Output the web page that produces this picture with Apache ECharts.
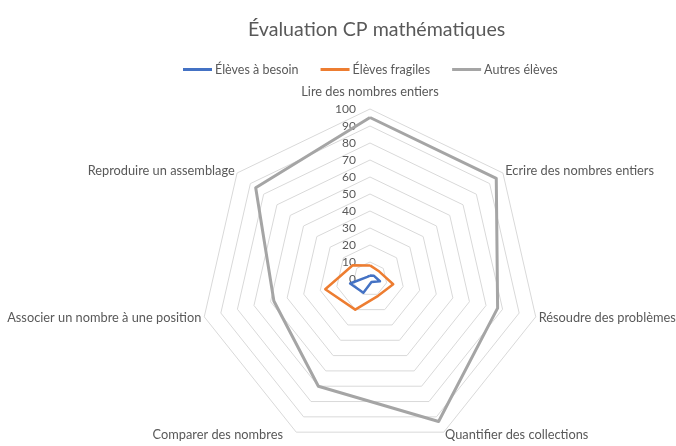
<!DOCTYPE html>
<html><head><meta charset="utf-8">
<script src="https://cdn.jsdelivr.net/npm/echarts@6/dist/echarts.min.js"></script>
<style>html,body{margin:0;padding:0;background:#fff}#c{width:676px;height:446px}</style>
</head><body><div id="c"></div>
<script>
// Categories listed clockwise from the top, as in the reference
const categories = ['Lire des nombres entiers','Ecrire des nombres entiers','Résoudre des problèmes','Quantifier des collections','Comparer des nombres','Associer un nombre à une position','Reproduire un assemblage'];
const seriesNames = ['Élèves à besoin','Élèves fragiles','Autres élèves'];
const besoin   = [2, 3, 6, 2, 9, 12, 2];
const fragiles = [8, 7, 14, 11, 20, 27, 13];
const autres   = [95, 95, 77, 93, 70, 58, 86];
const axisMax = 100;
const tickStep = 10;

// ECharts lays indicators out counter-clockwise: reorder to get clockwise order
const order = [0].concat(categories.map((_, i) => i).slice(1).reverse());
const reorder = arr => order.map(i => arr[i]);

const font = 'Lato';
const txt = '#595959';
const chart = echarts.init(document.getElementById('c'), null, {renderer: 'canvas'});
chart.setOption({
  animation: false,
  title: {text: 'Évaluation CP mathématiques', left: 243, top: 15,
    textStyle: {fontFamily: font, fontSize: 19.6, fontWeight: 'normal', color: txt}},
  legend: {top: 58, left: 178, itemWidth: 29, itemHeight: 3, itemGap: 22, icon: 'rect',
    textStyle: {fontFamily: font, fontSize: 12.5, color: txt, padding: [0, 0, 0, -2]}, data: seriesNames},
  radar: {
    center: [370, 279], radius: 170, startAngle: 90, shape: 'polygon',
    splitNumber: axisMax / tickStep,
    indicator: order.map((i, k) => ({name: categories[i], min: 0, max: axisMax,
      axisLabel: k === 0 ? {show: true, fontFamily: font, fontSize: 12, color: txt, margin: 14} : {show: false}})),
    axisName: {color: txt, fontFamily: font, fontSize: 12.8,
      formatter: (n) => n === categories[0] ? '{top|' + n + '}' : (n === categories[4] ? '{cmp|' + n + '}' : n),
      rich: {
        top: {padding: [0, 0, 8, 0], fontFamily: font, fontSize: 12.8, color: txt},
        cmp: {padding: [0, 12, 0, 0], fontFamily: font, fontSize: 12.8, color: txt}
      }},
    nameGap: 3,
    axisLine: {show: false},
    axisTick: {show: false},
    axisLabel: {show: false},
    splitLine: {lineStyle: {color: '#d9d9d9', width: 1}},
    splitArea: {show: false}
  },
  series: [{
    type: 'radar', symbol: 'none',
    data: [
      {name: seriesNames[0], value: reorder(besoin), lineStyle: {color: '#4472C4', width: 2.5}, itemStyle: {color: '#4472C4'}},
      {name: seriesNames[1], value: reorder(fragiles), lineStyle: {color: '#ED7D31', width: 2.5}, itemStyle: {color: '#ED7D31'}},
      {name: seriesNames[2], value: reorder(autres), lineStyle: {color: '#A5A5A5', width: 3}, itemStyle: {color: '#A5A5A5'}}
    ]
  }]
});
</script></body></html>
